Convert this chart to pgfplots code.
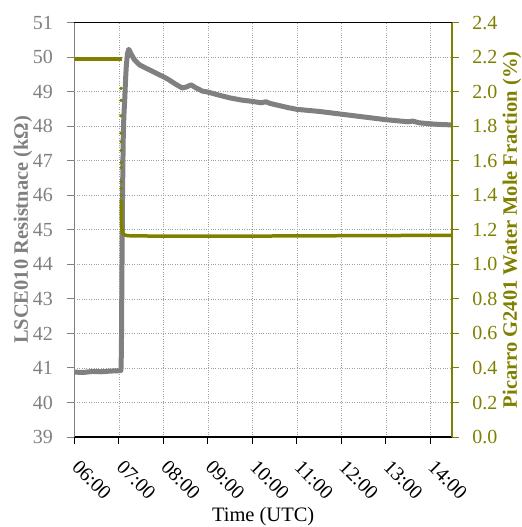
\documentclass[border=0pt]{standalone}
\usepackage{fontspec}
\setmainfont{Liberation Serif}
\usepackage{pgfplots}
\pgfplotsset{compat=1.18}
\definecolor{rgray}{RGB}{128,128,128}
\definecolor{rolive}{RGB}{128,128,0}
\definecolor{gridc}{RGB}{160,160,160}
\begin{document}
\begin{tikzpicture}
\pgfplotsset{
  common/.style={
    scale only axis, width=377.5bp, height=414.5bp,
    xmin=6, xmax=14.48,
    tick align=outside, major tick length=7bp,
    /pgf/number format/assume math mode=true,
    tick label style={font=\fontsize{20bp}{24bp}\selectfont},
    label style={font=\fontsize{20.5bp}{24bp}\selectfont},
  }
}
\begin{axis}[common,
  ymin=39, ymax=51,
  xtick={6,7,8,9,10,11,12,13,14},
  xticklabels={06:00,07:00,08:00,09:00,10:00,11:00,12:00,13:00,14:00},
  ytick={39,40,41,42,43,44,45,46,47,48,49,50,51},
  separate axis lines,
  x axis line style={black, line width=1.2bp},
  y axis line style={rgray, line width=1.5bp},
  xtick pos=left, ytick pos=left,
  xtick style={black, line width=1bp},
  ytick style={rgray, line width=1bp},
  grid=major,
  major grid style={dotted, gridc, line width=0.8bp},
  yticklabel style={rgray, xshift=-11bp},
  xticklabel style={xshift=6bp, yshift=-15bp, rotate=-45, anchor=north west, inner sep=0pt},
  xlabel={Time (UTC)},
  xlabel style={at={(axis description cs:0.5,-0.192)}, anchor=center},
  ylabel={\bfseries LSCE010 Resistnace (kΩ)},
  ylabel style={rgray, at={(axis description cs:-0.1364,0.5)}, anchor=center},
]
\addplot[rgray, line width=5bp, line join=round] coordinates {
(6.00,40.88)(6.20,40.87)(6.40,40.90)(6.60,40.89)(6.80,40.91)(7.00,40.92)(7.045,40.93)
(7.055,41.5)(7.065,43.5)(7.08,46.0)(7.095,47.6)(7.11,48.3)(7.13,48.8)(7.15,49.4)
(7.165,49.75)(7.19,50.10)(7.22,50.23)(7.27,50.10)(7.35,49.92)(7.46,49.78)(7.58,49.70)
(7.69,49.63)(7.80,49.56)(7.91,49.49)(8.02,49.42)(8.13,49.34)(8.27,49.22)(8.42,49.11)
(8.52,49.14)(8.62,49.20)(8.72,49.12)(8.87,49.02)(9.00,48.99)(9.25,48.90)(9.50,48.82)
(9.75,48.76)(10.00,48.72)(10.20,48.68)(10.30,48.71)(10.40,48.66)(10.60,48.60)(10.80,48.54)
(11.00,48.49)(11.25,48.46)(11.50,48.43)(11.75,48.39)(12.00,48.35)(12.25,48.31)
(12.50,48.27)(12.75,48.23)(13.00,48.19)(13.25,48.16)(13.50,48.13)(13.60,48.15)(13.75,48.10)
(14.00,48.07)(14.25,48.05)(14.48,48.04)
};
\end{axis}
\begin{axis}[common,
  ymin=0, ymax=2.4,
  ytick={0,0.2,0.4,0.6,0.8,1.0,1.2,1.4,1.6,1.8,2.0,2.2,2.4},
  axis x line=none, axis y line*=right,
  y axis line style={rolive, line width=1.5bp, -},
  ytick style={rolive, line width=1bp},
  xtick=\empty,
  yticklabel style={rolive, xshift=10bp, /pgf/number format/.cd, fixed, fixed zerofill, precision=1},
  ylabel={\bfseries Picarro G2401 Water Mole Fraction (\%)},
  ylabel style={rolive, at={(axis description cs:1.159,0.5)}, anchor=center},
]
\addplot[rolive, line width=3.5bp] coordinates {
(6.00,2.19)(6.50,2.19)(7.00,2.19)(7.058,2.19)
};
\addplot[rolive, only marks, mark=*, mark size=1.5bp] coordinates {
(7.046,2.02)(7.046,1.95)(7.047,1.86)(7.047,1.76)(7.048,1.71)(7.048,1.66)
(7.049,1.59)(7.049,1.56)(7.050,1.48)(7.050,1.44)(7.051,1.40)
};
\addplot[rolive, line width=3.5bp, line join=round] coordinates {
(7.052,1.375)(7.056,1.26)(7.064,1.21)(7.075,1.19)(7.095,1.177)(7.13,1.170)(7.20,1.166)
(7.50,1.165)(8.00,1.163)(9.00,1.163)(10.00,1.164)(11.00,1.165)(12.00,1.166)
(13.00,1.167)(14.00,1.168)(14.48,1.168)
};
\end{axis}
\pgfresetboundingbox
\path[use as bounding box] ([shift={(-74.5bp,-90bp)}]current axis.south west) rectangle ([shift={(70bp,22.7bp)}]current axis.north east);
\end{tikzpicture}
\end{document}
